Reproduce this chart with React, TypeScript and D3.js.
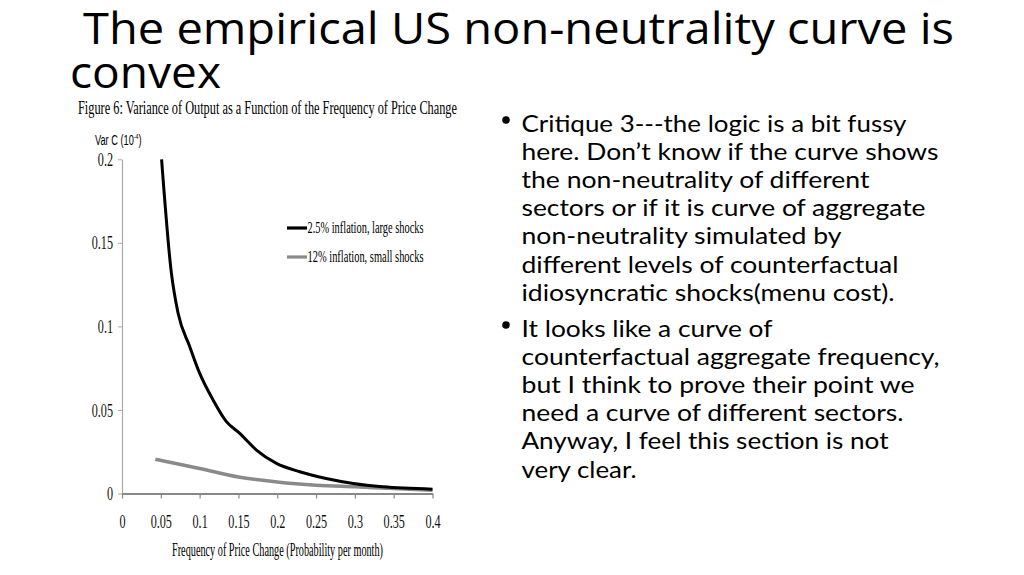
import React, { useEffect, useRef } from 'react';
import * as d3 from 'd3';

// black series: 2.5% inflation, large shocks
const largeFreq = [0.051, 0.0636, 0.0722, 0.0872, 0.1, 0.1173, 0.1345, 0.1517, 0.1732, 0.199, 0.229, 0.263, 0.298, 0.336, 0.4];
const largeVar = [0.2, 0.132, 0.108, 0.088, 0.072, 0.056, 0.043, 0.036, 0.026, 0.018, 0.013, 0.009, 0.006, 0.004, 0.0026];

// grey series: 12% inflation, small shocks
const smallFreq = [0.043, 0.1, 0.15, 0.2, 0.25, 0.3, 0.35, 0.4];
const smallVar = [0.0205, 0.015, 0.0099, 0.0069, 0.005, 0.004, 0.003, 0.002];

const xTicks = [0, 0.05, 0.1, 0.15, 0.2, 0.25, 0.3, 0.35, 0.4];
const yTicks = [0, 0.05, 0.1, 0.15, 0.2];

const legendLabels = ['2.5% inflation, large shocks', '12% inflation, small shocks'];

const titleLines = ['The empirical US non-neutrality curve is', 'convex'];
const bullet1 = [
  'Critique 3---the logic is a bit fussy',
  'here. Don\u2019t know if the curve shows',
  'the non-neutrality of different',
  'sectors or if it is curve of aggregate',
  'non-neutrality simulated by',
  'different levels of counterfactual',
  'idiosyncratic shocks(menu cost).',
];
const bullet2 = [
  'It looks like a curve of',
  'counterfactual aggregate frequency,',
  'but I think to prove their point we',
  'need a curve of different sectors.',
  'Anyway, I feel this section is not',
  'very clear.',
];
// measured line widths in the slide
const bullet1Widths = [385, 417, 348, 404, 320, 377, 373];
const bullet2Widths = [251, 418, 393, 382, 367, 115];

const serif = '"Liberation Serif", "Times New Roman", serif';
const SQ = 0.64; // horizontal squeeze for the condensed chart text

const App: React.FC = () => {
  const svgRef = useRef<SVGSVGElement>(null);

  useEffect(() => {
    if (!svgRef.current) return;
    const svg = d3.select(svgRef.current);
    svg.selectAll('*').remove();

    const x = d3.scaleLinear().domain([0, 0.4]).range([122, 432.5]);
    const y = d3.scaleLinear().domain([0, 0.2]).range([493.5, 159.3]);

    // slide title
    const titleFont = '"Open Sans", "Noto Sans", sans-serif';
    svg.append('text')
      .attr('x', 83).attr('y', 44)
      .attr('textLength', 871).attr('lengthAdjust', 'spacingAndGlyphs')
      .style('font-family', titleFont)
      .style('font-size', '44px')
      .text(titleLines[0]);
    svg.append('text')
      .attr('x', 70).attr('y', 88)
      .attr('textLength', 151).attr('lengthAdjust', 'spacingAndGlyphs')
      .style('font-family', titleFont)
      .style('font-size', '44px')
      .text(titleLines[1]);

    // figure caption
    svg.append('text')
      .attr('x', 78).attr('y', 114)
      .attr('textLength', 379).attr('lengthAdjust', 'spacingAndGlyphs')
      .style('font-family', serif)
      .style('font-size', '19px')
      .text('Figure 6: Variance of Output as a Function of the Frequency of Price Change');

    // y axis title (condensed sans)
    const yt = svg.append('g').attr('transform', 'translate(95,145) scale(0.66,1)')
      .append('text')
      .style('font-family', '"Liberation Sans", Arial, sans-serif').style('font-size', '14px');
    yt.append('tspan').text('Var C (10');
    yt.append('tspan').attr('dy', -6).style('font-size', '8px').text('-4');
    yt.append('tspan').attr('dy', 6).text(')');

    // y axis
    const gy = svg.append('g').attr('transform', 'translate(122,0)')
      .call(d3.axisLeft(y).tickValues(yTicks).tickSize(4).tickSizeOuter(0).tickFormat(d => String(d)));
    gy.select('.domain').attr('stroke', '#aaa').attr('stroke-width', 1.2);
    gy.selectAll('.tick line').attr('stroke', '#aaa');
    gy.selectAll('.tick text')
      .attr('x', -9 / SQ)
      .attr('transform', `scale(${SQ},1)`)
      .style('font-family', serif)
      .style('font-size', '19px')
      .attr('fill', '#111');

    // x axis
    const gx = svg.append('g').attr('transform', 'translate(0,493.5)')
      .call(d3.axisBottom(x).tickValues(xTicks).tickSize(5).tickSizeOuter(0).tickFormat(d => String(d)));
    gx.select('.domain').attr('stroke', '#888').attr('stroke-width', 2.2);
    gx.selectAll('.tick line').attr('stroke', '#888').attr('stroke-width', 1.2);
    gx.selectAll('.tick text')
      .attr('y', 21)
      .attr('transform', `scale(${SQ},1)`)
      .style('font-family', serif)
      .style('font-size', '19px')
      .attr('fill', '#111');

    // x axis title
    svg.append('text')
      .attr('x', 172).attr('y', 556)
      .attr('textLength', 211).attr('lengthAdjust', 'spacingAndGlyphs')
      .style('font-family', serif)
      .style('font-size', '18px')
      .text('Frequency of Price  Change (Probability per month)');

    const line = d3.line<[number, number]>()
      .x(d => x(d[0]))
      .y(d => y(d[1]))
      .curve(d3.curveMonotoneX);

    svg.append('path')
      .datum(smallFreq.map((f, i) => [f, smallVar[i]] as [number, number]))
      .attr('fill', 'none').attr('stroke', '#8a8a8a').attr('stroke-width', 3.5)
      .attr('d', line);

    svg.append('path')
      .datum(largeFreq.map((f, i) => [f, largeVar[i]] as [number, number]))
      .attr('fill', 'none').attr('stroke', '#000').attr('stroke-width', 3)
      .attr('d', line);

    // legend
    const legendColors = ['#000', '#8a8a8a'];
    legendLabels.forEach((lab, i) => {
      const ly = 228 + i * 29;
      svg.append('line')
        .attr('x1', 287).attr('x2', 307).attr('y1', ly).attr('y2', ly)
        .attr('stroke', legendColors[i]).attr('stroke-width', 3.2);
      svg.append('text')
        .attr('x', 307.5).attr('y', ly + 5)
        .attr('textLength', 116).attr('lengthAdjust', 'spacingAndGlyphs')
        .style('font-family', serif)
        .style('font-size', '17px')
        .text(lab);
    });

    // bullet text
    const bodyFont = '"Lato", "Open Sans", sans-serif';
    const drawBullet = (lines: string[], widths: number[], top: number) => {
      svg.append('circle').attr('cx', 506).attr('cy', top - 11.5).attr('r', 3.8).attr('fill', '#000');
      lines.forEach((l, i) => {
        svg.append('text')
          .attr('x', 521.5).attr('y', top + i * 28.2)
          .attr('textLength', widths[i]).attr('lengthAdjust', 'spacingAndGlyphs')
          .style('font-family', bodyFont)
          .style('font-size', '23.5px')
          .attr('fill', '#000')
          .text(l);
      });
    };
    drawBullet(bullet1, bullet1Widths, 131.5);
    drawBullet(bullet2, bullet2Widths, 336.5);
  }, []);

  return (
    <svg
      ref={svgRef}
      width={1024}
      height={575}
      style={{ position: 'absolute', left: 0, top: 0, background: '#fff' }}
    />
  );
};

export default App;
